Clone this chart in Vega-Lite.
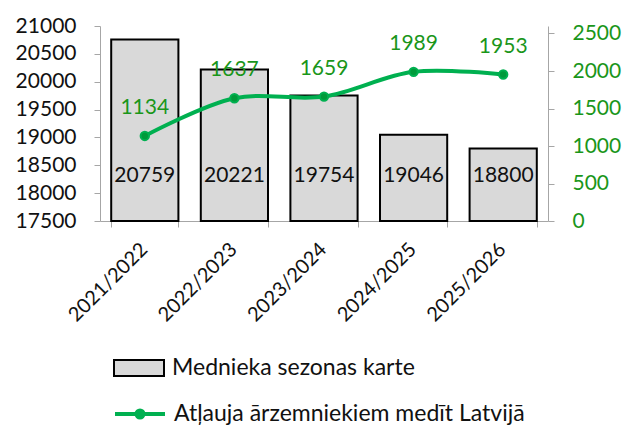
{
  "$schema": "https://vega.github.io/schema/vega-lite/v6.json",
  "width": 448,
  "height": 195,
  "autosize": {"type": "none"},
  "padding": {"left": 100, "top": 26, "right": 81, "bottom": 220},
  "background": "white",
  "config": {
    "font": "Lato",
    "view": {"stroke": null},
    "axis": {"labelFont": "Lato", "labelFontSize": 21, "domainColor": "#a6a6a6", "tickColor": "#a6a6a6", "grid": false, "title": null, "labelColor": "#111", "labelOverlap": false, "labelBound": false},
    "legend": {"padding": 0, "labelFont": "Lato", "labelFontSize": 23, "labelColor": "#111", "labelLimit": 0}
  },
  "data": {"values": [
    {"season": "2021/2022", "cards": 20759, "permits": 1134},
    {"season": "2022/2023", "cards": 20221, "permits": 1637},
    {"season": "2023/2024", "cards": 19754, "permits": 1659},
    {"season": "2024/2025", "cards": 19046, "permits": 1989},
    {"season": "2025/2026", "cards": 18800, "permits": 1953}
  ]},
  "encoding": {
    "x": {"field": "season", "type": "nominal", "sort": null,
      "scale": {"paddingInner": 0.25, "paddingOuter": 0.125},
      "axis": {"labelAngle": -45, "labelFontSize": 20, "tickBand": "extent", "tickSize": 6, "labelPadding": 12, "labelOffset": -8}}
  },
  "layer": [
    {
      "layer": [
        {
          "mark": {"type": "bar", "stroke": "#000", "strokeWidth": 2},
          "encoding": {
            "y": {"field": "cards", "type": "quantitative",
              "scale": {"domain": [17500, 21000], "zero": false},
              "axis": {"orient": "left", "values": [17500, 18000, 18500, 19000, 19500, 20000, 20500, 21000], "format": "d", "tickSize": 6, "labelPadding": 18}},
            "y2": {"datum": 17500},
            "fill": {"datum": "Mednieka sezonas karte", "type": "nominal",
              "scale": {"range": ["#d9d9d9"]},
              "legend": {"orient": "none", "legendX": 13, "legendY": 316, "title": null,
                "symbolType": "M-1,-0.32H1V0.32H-1Z", "symbolSize": 2500, "symbolStrokeColor": "#000", "symbolStrokeWidth": 2, "symbolFillColor": "#c8c8c8", "labelOffset": 7}}
          }
        },
        {
          "mark": {"type": "text", "fontSize": 21, "color": "#111", "baseline": "middle", "font": "Lato"},
          "encoding": {
            "y": {"datum": 18300, "type": "quantitative", "axis": {"orient": "left", "values": [17500, 18000, 18500, 19000, 19500, 20000, 20500, 21000], "format": "d", "tickSize": 6, "labelPadding": 18}},
            "text": {"field": "cards", "type": "nominal"}
          }
        }
      ]
    },
    {
      "layer": [
        {
          "mark": {"type": "line", "strokeWidth": 4, "interpolate": "catmull-rom",
            "point": {"filled": true, "color": "#009a3a", "size": 70}},
          "encoding": {
            "y": {"field": "permits", "type": "quantitative",
              "scale": {"domain": [0, 2500]},
              "axis": {"orient": "right", "values": [0, 500, 1000, 1500, 2000, 2500], "format": "d", "tickSize": 6, "labelPadding": 18, "labelColor": "#1a961a"}},
            "stroke": {"datum": "Atļauja ārzemniekiem medīt Latvijā", "type": "nominal",
              "scale": {"range": ["#00b050"]},
              "legend": {"orient": "none", "legendX": 13, "legendY": 361, "title": null,
                "symbolType": "M-1,0H1M0.14,0A0.14,0.14 0 1,1 -0.14,0A0.14,0.14 0 1,1 0.14,0", "symbolSize": 2500, "symbolStrokeWidth": 4, "symbolFillColor": "#009a3a", "labelOffset": 7}}
          }
        },
        {
          "mark": {"type": "text", "fontSize": 21, "color": "#1a961a", "baseline": "middle", "dy": -28, "font": "Lato"},
          "encoding": {
            "y": {"field": "permits", "type": "quantitative", "axis": {"orient": "right", "values": [0, 500, 1000, 1500, 2000, 2500], "format": "d", "tickSize": 6, "labelPadding": 18, "labelColor": "#1a961a"}},
            "text": {"field": "permits", "type": "nominal"}
          }
        }
      ]
    }
  ],
  "resolve": {"scale": {"y": "independent", "fill": "independent", "stroke": "independent"}}
}
